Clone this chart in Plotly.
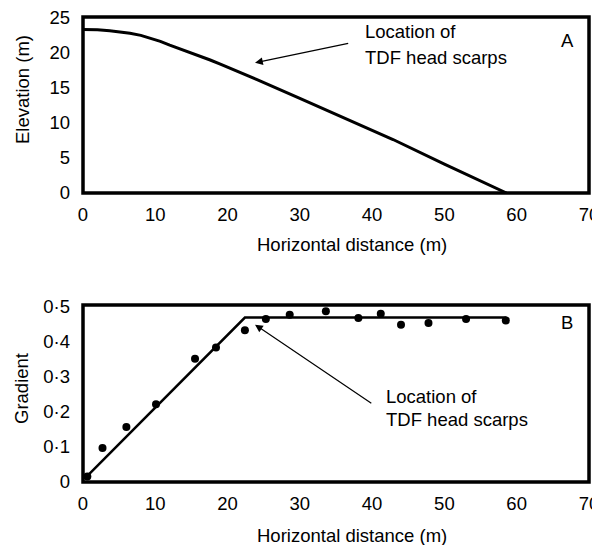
import plotly.graph_objects as go

# Panel A: elevation profile
profile_x = [0, 0.5, 2.0, 3.7, 5.0, 6.5, 8.0, 9.3, 10.7, 12.0, 13.4, 14.8, 16.2, 17.6, 19.0, 20.3, 22.0, 24.0, 30.0, 36.0, 42.9, 50.0, 58.6]
profile_y = [23.25, 23.25, 23.2, 23.05, 22.9, 22.7, 22.4, 22.0, 21.55, 21.0, 20.5, 20.0, 19.45, 18.9, 18.3, 17.75, 17.0, 16.15, 13.45, 10.7, 7.6, 4.1, 0.0]

# Panel B: gradient observations and fitted line
grad_x = [0.6, 2.7, 6.0, 10.1, 15.5, 18.4, 22.4, 25.3, 28.6, 33.6, 38.1, 41.2, 44.0, 47.8, 53.0, 58.5]
grad_y = [0.016, 0.097, 0.157, 0.222, 0.352, 0.384, 0.433, 0.465, 0.477, 0.487, 0.468, 0.480, 0.449, 0.454, 0.465, 0.461]
fit_x = [0.5, 22.4, 58.6]
fit_y = [0.015, 0.469, 0.469]

x_ticks = [0, 10, 20, 30, 40, 50, 60, 70]
a_yticks = [0, 5, 10, 15, 20, 25]
b_yticks = [0, 0.1, 0.2, 0.3, 0.4, 0.5]
b_yticktext = ["0", "0·1", "0·2", "0·3", "0·4", "0·5"]

FONT = "Liberation Sans, Arial, Helvetica, sans-serif"
FS = 18.5
W, H = 592, 545


def px(p):
    return p / W


def py(p):
    return 1 - p / H


fig = go.Figure()
fig.add_trace(go.Scatter(x=profile_x, y=profile_y, mode="lines", line=dict(color="black", width=3),
                         xaxis="x", yaxis="y", showlegend=False, hoverinfo="skip"))
fig.add_trace(go.Scatter(x=fit_x, y=fit_y, mode="lines", line=dict(color="black", width=2.5),
                         xaxis="x2", yaxis="y2", showlegend=False, hoverinfo="skip"))
fig.add_trace(go.Scatter(x=grad_x, y=grad_y, mode="markers", marker=dict(color="black", size=8),
                         xaxis="x2", yaxis="y2", showlegend=False, hoverinfo="skip", cliponaxis=False))

left, right = px(83), px(589)
a_top, a_bot = py(17), py(193)
b_top, b_bot = py(305), py(482)

common_x = dict(range=[0, 70.01], tickvals=x_ticks, ticks="", showgrid=False, zeroline=False, automargin=False,
                showline=False, tickfont=dict(family=FONT, size=FS, color="black"), ticklabelstandoff=8,
                ticklabeloverflow="allow")
common_y = dict(ticks="", showgrid=False, zeroline=False, showline=False, automargin=False,
                tickfont=dict(family=FONT, size=FS, color="black"), ticklabelstandoff=12,
                ticklabeloverflow="allow")

fig.update_layout(
    template="none",
    width=W, height=H,
    margin=dict(l=0, r=0, t=0, b=0, pad=0),
    paper_bgcolor="white", plot_bgcolor="white",
    font=dict(family=FONT, size=FS, color="black"),
    xaxis=dict(domain=[left, right], anchor="y", **common_x),
    yaxis=dict(domain=[a_bot, a_top], anchor="x", range=[0, 25.01], tickvals=a_yticks, **common_y),
    xaxis2=dict(domain=[left, right], anchor="y2", **common_x),
    yaxis2=dict(domain=[b_bot, b_top], anchor="x2", range=[0, 0.505], tickvals=b_yticks,
                ticktext=b_yticktext, **common_y),
)

shapes = []
for xr, yr in (("x", "y"), ("x2", "y2")):
    shapes.append(dict(type="rect", xref=f"{xr} domain", yref=f"{yr} domain", x0=0, x1=1, y0=0, y1=1,
                       line=dict(color="black", width=3.5), layer="above"))
fig.update_layout(shapes=shapes)

ann = []
# Arrows
ann.append(dict(x=23.8, y=18.5, ax=36.9, ay=21.3, xref="x", yref="y", axref="x", ayref="y",
                showarrow=True, arrowhead=2, arrowsize=1.3, arrowwidth=1.2, arrowcolor="black", text=""))
ann.append(dict(x=23.8, y=0.449, ax=40.1, ay=0.222, xref="x2", yref="y2", axref="x2", ayref="y2",
                showarrow=True, arrowhead=2, arrowsize=1.3, arrowwidth=1.2, arrowcolor="black", text=""))
# Labels
for txt, x, y, xr, yr in [("Location of", 38.7, 22.9, "x", "y"), ("TDF head scarps", 38.7, 19.3, "x", "y"),
                          ("Location of", 41.6, 0.244, "x2", "y2"), ("TDF head scarps", 41.6, 0.179, "x2", "y2")]:
    ann.append(dict(x=x, y=y, xref=xr, yref=yr, text=txt, showarrow=False, xanchor="left", yanchor="middle",
                    font=dict(family=FONT, size=FS, color="black")))
ann.append(dict(x=67.0, y=21.6, xref="x", yref="y", text="A", showarrow=False, xanchor="center",
                yanchor="middle", font=dict(family=FONT, size=FS)))
ann.append(dict(x=67.0, y=0.455, xref="x2", yref="y2", text="B", showarrow=False, xanchor="center",
                yanchor="middle", font=dict(family=FONT, size=FS)))
# Axis titles
for txt, x, y, ang in [("Elevation (m)", 22, 90, -90), ("Gradient", 21, 389, -90),
                       ("Horizontal distance (m)", 352, 245, 0), ("Horizontal distance (m)", 352, 535, 0)]:
    ann.append(dict(x=px(x), y=py(y), xref="paper", yref="paper", text=txt, textangle=ang,
                    xanchor="center", yanchor="middle", showarrow=False, font=dict(family=FONT, size=FS)))
fig.update_layout(annotations=ann)

fig.write_html(
    "out.html",
    config={"displayModeBar": False},
    post_script="document.body.style.margin='0';document.body.style.overflow='hidden';"
                "document.documentElement.style.overflow='hidden';",
)
